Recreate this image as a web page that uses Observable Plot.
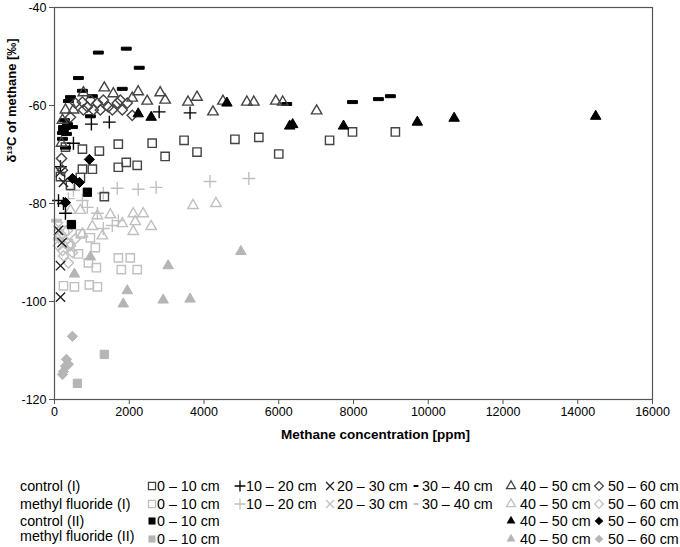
<!DOCTYPE html>
<html>
<head>
<meta charset="utf-8">
<script src="https://cdn.jsdelivr.net/npm/d3@7"></script>
<script src="https://cdn.jsdelivr.net/npm/@observablehq/plot@0.6"></script>
<style>
  html, body { margin: 0; padding: 0; background: #fff; }
  #wrap { width: 680px; font-family: 'Liberation Sans', Arial, sans-serif; }
  #legend { position: relative; width: 680px; height: 97px; font-size: 14.3px; color: #000; }
  #legend .t { position: absolute; white-space: nowrap; line-height: 16px; transform: translateY(-50%); }
  #legend svg.s { position: absolute; overflow: visible; }
</style>
</head>
<body>
<div id="wrap"><div id="chart"></div><div id="legend"></div></div>
<script>
// ---- data: [methane concentration (ppm), δ13C (‰)] ----
const ctrlI_0_10 = [[1707,-67.9],[1200,-69.3],[747,-68.9],[2613,-67.7],[3467,-67.1],[3813,-69.5],[2960,-70.4],[4827,-66.9],[5467,-66.5],[6000,-69.9],[1920,-71.6],[2213,-72.2],[1707,-72.6],[1013,-73.0],[747,-73.0],[293,-68.5],[160,-74.5],[1333,-78.6],[427,-76.3],[693,-74.7],[7360,-67.1],[7973,-65.4],[9120,-65.4]];
const ctrlI_10_20 = [[987,-63.8],[1467,-63.4],[2800,-61.3],[3627,-61.5],[507,-67.7],[240,-80.0],[293,-82.0],[107,-79.4],[160,-72.5]];
const ctrlI_20_30 = [[160,-92.7],[160,-99.1],[160,-73.6],[240,-75.7],[107,-85.5],[200,-88.0]];
const ctrlI_30_40 = [[1173,-49.2],[1920,-48.4],[2267,-52.3],[640,-54.4],[1813,-56.6],[747,-57.0],[427,-58.3],[373,-59.1],[1013,-58.1],[960,-62.2],[240,-64.4],[347,-63.8],[240,-65.0],[213,-65.6],[480,-64.4],[267,-63.0],[293,-64.6],[213,-66.8],[320,-65.8],[293,-68.6],[6213,-59.7],[7973,-59.3],[8667,-58.7],[8987,-58.1]];
const ctrlI_40_50 = [[1333,-56.4],[1573,-57.6],[2240,-57.2],[2827,-57.4],[2960,-58.9],[3573,-59.3],[3813,-58.3],[4240,-61.3],[4507,-59.1],[5147,-59.3],[5333,-59.3],[5920,-59.1],[6107,-59.3],[7013,-61.1],[2480,-59.1],[2080,-58.5],[773,-57.4],[293,-60.9],[213,-63.0],[187,-67.7],[507,-60.9]];
const ctrlI_50_60 = [[747,-59.3],[880,-60.3],[960,-58.9],[1147,-59.5],[1227,-60.9],[1307,-58.9],[1440,-60.3],[1547,-60.9],[1680,-59.5],[1760,-58.9],[1813,-60.9],[1947,-59.5],[2080,-62.0],[1040,-60.9],[773,-60.9],[560,-59.5],[427,-62.4],[187,-70.8],[213,-73.2]];

const mfI_0_10 = [[1707,-91.1],[2027,-91.1],[1787,-93.5],[2213,-93.5],[1120,-93.1],[933,-96.6],[1147,-97.0],[533,-97.0],[240,-96.8],[693,-86.2],[960,-87.0],[1093,-89.0],[907,-92.1],[640,-90.3],[267,-85.5],[373,-88.2]];
const mfI_10_20 = [[1680,-76.9],[2240,-77.1],[2720,-76.7],[4160,-75.5],[5200,-74.9],[507,-77.3],[747,-79.4],[1307,-77.9],[880,-80.8],[1147,-82.0],[1547,-84.5],[1707,-83.5],[1307,-85.1],[373,-79.0]];
const mfI_20_30 = [[213,-87.2],[427,-89.2],[107,-84.7]];
const mfI_30_40 = [[53,-83.5],[107,-87.2]];
const mfI_40_50 = [[693,-81.4],[1147,-82.5],[1493,-82.3],[2107,-82.1],[2373,-82.1],[1813,-84.1],[2160,-83.7],[2587,-84.7],[2107,-85.7],[1013,-84.7],[1280,-86.6],[427,-81.4],[747,-86.2],[3707,-80.4],[4320,-80.0]];
const mfI_50_60 = [[160,-86.6],[293,-87.6],[427,-88.6],[213,-89.6],[480,-90.0],[347,-85.5],[560,-87.2],[107,-88.6],[240,-90.7],[373,-92.1]];

const ctrlII_0_10 = [[880,-77.7],[453,-84.3]];
const ctrlII_40_50 = [[4613,-59.5],[2240,-61.7],[2587,-62.4],[6373,-63.9],[6293,-64.2],[7733,-64.2],[9707,-63.4],[10693,-62.6],[14480,-62.2]];
const ctrlII_50_60 = [[933,-71.0],[480,-74.9],[667,-75.7],[293,-79.8]];

const mfII_0_10 = [[1333,-110.8],[613,-116.7]];
const mfII_40_50 = [[960,-90.9],[3040,-92.7],[4987,-89.8],[1947,-97.8],[1840,-100.5],[2907,-99.7],[3627,-99.5],[533,-94.4]];
const mfII_50_60 = [[480,-107.1],[320,-111.8],[373,-112.8],[240,-114.3],[213,-114.9],[293,-113.2]];

const xTicks = [0,2000,4000,6000,8000,10000,12000,14000,16000];
const yTicks = [-120,-100,-80,-60,-40];
const xTitle = "Methane concentration [ppm]";
const yTitle = "δ¹³C of methane [‰]";
const rowLabels = ["control (I)", "methyl fluoride (I)", "control (II)", "methyl fluoride (II)"];
const depthLabels = ["0 – 10 cm", "10 – 20 cm", "20 – 30 cm", "30 – 40 cm", "40 – 50 cm", "50 – 60 cm"];

// ---- styles ----
const DARK = "#444", BLACK = "#000", LIGHT = "#c0c0c0", MID = "#b5b5b5";
const FONT = "'Liberation Sans', Arial, sans-serif";
const symbolDash = {
  draw(ctx, size) {
    const w = Math.sqrt(size) * 0.62, h = 1.5;
    ctx.moveTo(-w, -h); ctx.lineTo(w, -h); ctx.lineTo(w, h); ctx.lineTo(-w, h); ctx.closePath();
  }
};
const symbolHyphen = {
  draw(ctx, size) {
    const w = Math.sqrt(size) * 0.35, h = 1;
    ctx.moveTo(-w, -h); ctx.lineTo(w, -h); ctx.lineTo(w, h); ctx.lineTo(-w, h); ctx.closePath();
  }
};

const S = {
  sq:  {symbol: "square2", r: 5.3},
  pl:  {symbol: "plus", r: 4.2},
  ti:  {symbol: "times", r: 4.3},
  da:  {symbol: symbolDash, r: 4.5},
  tr:  {symbol: "triangle2", r: 5.0},
  di:  {symbol: "diamond2", r: 4.6}
};

function open(data, s, color) {
  return Plot.dot(data, {x: d => d[0], y: d => d[1], symbol: s.symbol, r: s.r, stroke: color, fill: "none", strokeWidth: 1.4});
}
function solid(data, s, color) {
  return Plot.dot(data, {x: d => d[0], y: d => d[1], symbol: s.symbol, r: s.r, fill: color, stroke: color, strokeWidth: 1});
}

const chart = Plot.plot({
  width: 680,
  height: 450,
  marginLeft: 54,
  marginRight: 28,
  marginTop: 7,
  marginBottom: 51,
  style: {fontFamily: FONT, fontSize: "12.5px", color: "#000", background: "#fff"},
  x: {domain: [0, 16000], ticks: xTicks, tickFormat: d => String(d), label: null},
  y: {domain: [-120, -40], ticks: yTicks, tickFormat: d => String(d), label: null},
  marks: [
    // methyl fluoride (I)
    open(mfI_0_10, S.sq, LIGHT),
    open(mfI_10_20, S.pl, LIGHT),
    open(mfI_20_30, S.ti, LIGHT),
    solid(mfI_30_40, S.da, LIGHT),
    open(mfI_40_50, S.tr, LIGHT),
    open(mfI_50_60, S.di, LIGHT),
    // methyl fluoride (II)
    solid(mfII_0_10, S.sq, MID),
    solid(mfII_40_50, S.tr, MID),
    solid(mfII_50_60, S.di, MID),
    // control (I)
    open(ctrlI_0_10, S.sq, DARK),
    open(ctrlI_10_20, S.pl, BLACK),
    open(ctrlI_20_30, S.ti, "#222"),
    solid(ctrlI_30_40, S.da, BLACK),
    open(ctrlI_40_50, S.tr, DARK),
    open(ctrlI_50_60, S.di, DARK),
    // control (II)
    solid(ctrlII_0_10, S.sq, BLACK),
    solid(ctrlII_40_50, S.tr, BLACK),
    solid(ctrlII_50_60, S.di, BLACK),
    Plot.frame({stroke: "#555", strokeWidth: 1.2}),
    Plot.axisX({ticks: xTicks, tickFormat: d => String(d), tickSize: 5, tickPadding: 3, stroke: "#555", fill: "#000", label: null}),
    Plot.axisY({ticks: yTicks, tickFormat: d => String(d), tickSize: 5, tickPadding: 3, stroke: "#555", fill: "#000", label: null}),
    Plot.text([xTitle], {frameAnchor: "bottom", dx: 22, dy: 39, fontWeight: "bold", fontSize: 13.5, fill: "#000"}),
    Plot.text([yTitle], {frameAnchor: "left", rotate: -90, dx: -43, dy: -41, fontWeight: "bold", fontSize: 13, fill: "#000"})
  ]
});
document.getElementById("chart").appendChild(chart);

// ---- legend ----
const legend = document.getElementById("legend");
const rowY = [36, 54, 71, 88];
const symX = [152, 240, 330, 416, 511, 599];
const txtX = [157, 246, 337, 422, 520, 608];
const types = [S.sq, S.pl, S.ti, {symbol: symbolHyphen, r: 4.5}, S.tr, S.di];
const d3types = {square2: d3.symbolSquare2, plus: d3.symbolPlus, times: d3.symbolTimes, triangle2: d3.symbolTriangle2, diamond2: d3.symbolDiamond2};
const rows = [
  {cols: [0,1,2,3,4,5], colors: [DARK, BLACK, "#222", BLACK, DARK, DARK], solid: [false,false,false,true,false,false]},
  {cols: [0,1,2,3,4,5], colors: [LIGHT, LIGHT, LIGHT, LIGHT, LIGHT, LIGHT], solid: [false,false,false,true,false,false]},
  {cols: [0,4,5], colors: [BLACK, BLACK, BLACK], solid: [true,true,true]},
  {cols: [0,4,5], colors: [MID, MID, MID], solid: [true,true,true]}
];
function addText(str, x, y) {
  const el = document.createElement("div");
  el.className = "t"; el.textContent = str;
  el.style.left = x + "px"; el.style.top = y + "px";
  legend.appendChild(el);
}
function addSym(s, color, isSolid, x, y, scale) {
  const t = typeof s.symbol === "string" ? d3types[s.symbol] : s.symbol;
  const r = s.r * scale;
  const path = d3.symbol(t, Math.PI * r * r)();
  const ns = "http://www.w3.org/2000/svg";
  const svg = document.createElementNS(ns, "svg");
  svg.setAttribute("class", "s");
  svg.setAttribute("width", 1); svg.setAttribute("height", 1);
  svg.style.left = x + "px"; svg.style.top = y + "px";
  const p = document.createElementNS(ns, "path");
  p.setAttribute("d", path);
  p.setAttribute("fill", isSolid ? color : "none");
  p.setAttribute("stroke", isSolid ? "none" : color);
  p.setAttribute("stroke-width", 1.3);
  svg.appendChild(p);
  legend.appendChild(svg);
}
rows.forEach((row, i) => {
  addText(rowLabels[i], 20, rowY[i] - (i === 3 ? 2 : 0));
  row.cols.forEach((c, j) => {
    addSym(types[c], row.colors[j], row.solid[j], symX[c], rowY[i] + (i === 3 ? 1 : 0), 0.85);
    addText(depthLabels[c], txtX[c], rowY[i] + (i === 3 ? 1 : 0));
  });
});
</script>
</body>
</html>
